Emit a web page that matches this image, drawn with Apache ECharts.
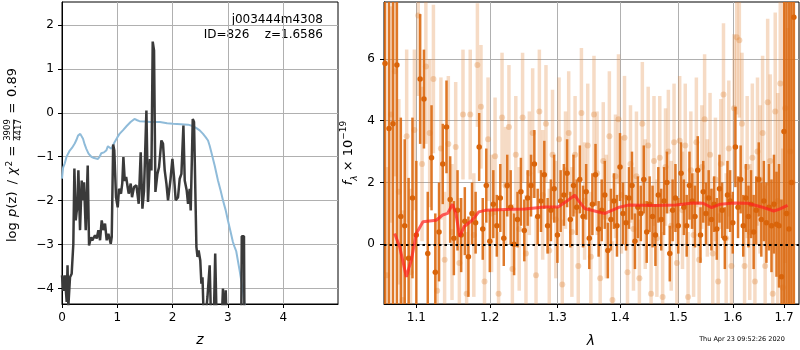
<!DOCTYPE html>
<html>
<head>
<meta charset="utf-8">
<script src="https://cdn.jsdelivr.net/npm/echarts@6/dist/echarts.min.js"></script>
<style>
html,body{margin:0;padding:0;background:#fff}
#chart{width:800px;height:350px}
</style>
</head>
<body>
<div id="chart"></div>
<script>
// left panel: log p(z) (black) and the blue curve, [z, value]
var pzCurve = [[0.00,-3.70],[0.025,-4.05],[0.05,-3.70],[0.085,-4.30],[0.10,-3.47],[0.115,-4.40],[0.145,-3.74],[0.175,-3.66],[0.205,-2.98],[0.224,-1.27],[0.248,-2.45],[0.265,-2.25],[0.278,-2.15],[0.296,-1.31],[0.326,-2.67],[0.356,-1.54],[0.374,-1.99],[0.398,-1.58],[0.429,-2.67],[0.465,-1.20],[0.489,-3.02],[0.525,-2.83],[0.547,-2.90],[0.567,-2.86],[0.597,-2.79],[0.627,-2.86],[0.658,-2.67],[0.688,-2.90],[0.718,-2.45],[0.748,-2.67],[0.778,-2.52],[0.808,-2.90],[0.839,-2.75],[0.881,-2.98],[0.899,-2.83],[0.925,-0.72],[0.945,-0.85],[0.977,-1.92],[1.007,-2.15],[1.031,-1.73],[1.067,-1.84],[1.090,-1.60],[1.110,-1.01],[1.135,-1.55],[1.160,-1.46],[1.188,-1.70],[1.206,-1.84],[1.242,-1.61],[1.266,-1.92],[1.302,-1.69],[1.345,-1.65],[1.387,-2.07],[1.423,-0.90],[1.454,-2.18],[1.483,-1.77],[1.526,0.05],[1.555,-2.03],[1.591,-1.05],[1.617,-1.31],[1.640,1.62],[1.652,1.60],[1.664,1.42],[1.689,-1.80],[1.725,-1.39],[1.754,-1.24],[1.797,-0.63],[1.826,-0.70],[1.857,-1.31],[1.888,-1.61],[1.917,-1.99],[1.960,-1.54],[1.996,-1.05],[2.025,-1.46],[2.056,-1.99],[2.080,-2.03],[2.098,-1.92],[2.128,-1.50],[2.159,-1.39],[2.195,-0.29],[2.219,-1.54],[2.255,-1.77],[2.279,-2.07],[2.309,-1.73],[2.327,-2.22],[2.364,-0.14],[2.387,-0.21],[2.400,-0.25],[2.430,-3.05],[2.450,-3.28],[2.470,-3.13],[2.500,-3.36],[2.520,-3.89],[2.540,-3.74],[2.570,-5.0],[2.600,-5.0],[2.630,-4.19],[2.670,-3.47],[2.700,-5.0],[2.740,-5.0],[2.770,-3.20],[2.800,-5.0],[2.880,-5.0],[2.910,-4.00],[2.930,-5.0],[2.960,-4.04],[2.980,-5.0],[3.240,-5.0],[3.250,-2.81],[3.290,-2.81],[3.300,-5.0],[3.400,-8.0]];
var chi2Curve = [[0,-1.5],[0.02,-1.25],[0.05,-1.15],[0.08,-1.01],[0.11,-0.93],[0.14,-0.86],[0.18,-0.8],[0.23,-0.70],[0.26,-0.62],[0.29,-0.52],[0.33,-0.48],[0.36,-0.52],[0.38,-0.59],[0.41,-0.72],[0.44,-0.82],[0.48,-0.93],[0.53,-1.0],[0.58,-1.03],[0.65,-1.05],[0.68,-1.0],[0.71,-0.92],[0.76,-0.9],[0.80,-0.86],[0.83,-0.76],[0.86,-0.8],[0.89,-0.82],[0.92,-0.75],[0.95,-0.67],[1.0,-0.56],[1.04,-0.48],[1.1,-0.40],[1.17,-0.30],[1.24,-0.21],[1.31,-0.14],[1.36,-0.17],[1.40,-0.19],[1.50,-0.20],[1.60,-0.21],[1.70,-0.21],[1.77,-0.21],[1.90,-0.24],[2.01,-0.25],[2.15,-0.26],[2.28,-0.27],[2.36,-0.30],[2.43,-0.35],[2.49,-0.40],[2.55,-0.48],[2.60,-0.56],[2.64,-0.63],[2.67,-0.75],[2.70,-0.90],[2.76,-1.20],[2.82,-1.54],[2.87,-1.78],[2.91,-1.99],[2.96,-2.22],[3.0,-2.45],[3.05,-2.72],[3.09,-2.94],[3.12,-3.05],[3.15,-3.15],[3.21,-3.58],[3.27,-4.04],[3.31,-4.45],[3.35,-5.0]];
var zTicks = [0, 1, 2, 3, 4];
var pzTicks = [-4, -3, -2, -1, 0, 1, 2];

// right panel: spectrum, strong points
var wlA = [1.060,1.065,1.070,1.075,1.080,1.085,1.090,1.095,1.100,1.105,
  1.110,1.115,1.120,1.125,1.130,1.135,1.140,1.145,1.150,1.155,
  1.160,1.165,1.170,1.175,1.180,1.185,1.190,1.195,1.200,1.205,
  1.210,1.215,1.220,1.225,1.230,1.235,1.240,1.245,1.250,1.255,
  1.260,1.265,1.270,1.275,1.280,1.285,1.290,1.295,1.300,1.305,
  1.310,1.315,1.320,1.325,1.330,1.335,1.340,1.345,1.350,1.355,
  1.360,1.365,1.370,1.375,1.380,1.385,1.390,1.395,1.400,1.405,
  1.410,1.415,1.420,1.425,1.430,1.435,1.440,1.445,1.450,1.455,
  1.460,1.465,1.470,1.475,1.480,1.485,1.490,1.495,1.500,1.505,
  1.510,1.515,1.520,1.525,1.530,1.535,1.540,1.545,1.550,1.555,
  1.560,1.565,1.570,1.575,1.580,1.585,1.590,1.595,1.600,1.605,
  1.610,1.615,1.620,1.625,1.630,1.635,1.640,1.645,1.650,1.655,
  1.660,1.665,1.670,1.675,1.680,1.685,1.690,1.695,1.700,1.705,
  1.710,1.715,1.720];
var fluxA = [5.85,3.75,3.90,5.80,0.90,0.60,-0.45,1.50,0.30,5.35,
  4.70,-0.30,2.80,-0.90,0.40,2.60,3.80,1.45,0.20,1.10,
  0.30,0.75,-0.40,1.00,0.70,3.15,0.50,1.90,0.10,1.30,
  0.60,1.50,0.20,1.90,1.20,0.00,0.80,1.70,0.45,1.50,
  1.90,2.60,0.90,1.40,2.25,0.60,1.10,1.80,0.30,1.40,
  1.60,2.30,0.80,1.90,1.20,2.10,0.90,1.70,0.20,1.30,
  2.25,0.50,1.10,1.60,-0.20,0.80,1.40,0.60,2.50,1.00,
  0.70,1.50,1.90,0.10,1.20,1.00,2.10,0.40,1.30,0.90,
  0.30,1.60,0.80,1.40,2.00,-0.30,1.10,1.50,0.60,2.30,
  1.20,0.60,1.90,1.40,0.90,2.40,0.30,1.70,1.00,1.50,
  0.80,1.30,0.50,1.80,1.10,0.20,1.60,1.40,0.70,3.15,
  1.20,2.10,0.60,1.50,0.90,1.30,0.40,1.10,2.10,0.80,
  1.40,0.70,1.20,0.60,1.30,0.65,0.60,-1.05,3.65,1.00,
  0.50,2.00,7.35];
var errA = [12,12,12,12,3.2,2.8,2.6,2.6,2.4,2.1,
  1.6,2.0,1.7,1.9,1.6,1.3,1.5,1.4,1.2,1.3,
  1.2,1.1,1.3,1.0,1.0,1.1,1.0,1.2,1.0,1.1,
  1.0,1.1,0.9,1.0,1.2,1.0,0.9,1.1,1.0,0.9,
  1.0,1.1,0.9,1.0,1.1,0.9,1.0,1.1,0.9,1.0,
  1.0,1.1,0.9,1.0,0.9,1.1,1.0,0.9,1.0,1.0,
  1.0,0.9,1.0,1.1,0.9,1.0,0.9,1.0,1.1,1.0,
  0.9,1.0,1.1,0.9,1.0,0.9,1.1,1.0,0.9,1.0,
  1.0,0.9,1.0,1.1,1.0,0.9,1.0,1.1,0.9,1.0,
  0.9,1.0,1.1,0.9,1.0,1.1,0.9,1.0,1.0,0.9,
  1.0,0.9,1.0,1.1,0.9,1.0,1.1,1.0,1.0,1.3,
  1.0,1.1,1.0,1.1,1.0,1.1,1.2,1.1,1.2,1.2,
  1.3,1.3,1.4,1.5,1.6,1.7,2.0,2.5,12,12,
  12,12,12];

// right panel: faint points
var wlB = [1.0625,1.0675,1.0725,1.0775,1.0825,1.0875,1.0925,1.0975,1.1025,1.1075,
  1.1125,1.1175,1.1225,1.1275,1.1325,1.1375,1.1425,1.1475,1.1525,1.1575,
  1.1625,1.1675,1.1725,1.1775,1.1825,1.1875,1.1925,1.1975,1.2025,1.2075,
  1.2125,1.2175,1.2225,1.2275,1.2325,1.2375,1.2425,1.2475,1.2525,1.2575,
  1.2625,1.2675,1.2725,1.2775,1.2825,1.2875,1.2925,1.2975,1.3025,1.3075,
  1.3125,1.3175,1.3225,1.3275,1.3325,1.3375,1.3425,1.3475,1.3525,1.3575,
  1.3625,1.3675,1.3725,1.3775,1.3825,1.3875,1.3925,1.3975,1.4025,1.4075,
  1.4125,1.4175,1.4225,1.4275,1.4325,1.4375,1.4425,1.4475,1.4525,1.4575,
  1.4625,1.4675,1.4725,1.4775,1.4825,1.4875,1.4925,1.4975,1.5025,1.5075,
  1.5125,1.5175,1.5225,1.5275,1.5325,1.5375,1.5425,1.5475,1.5525,1.5575,
  1.5625,1.5675,1.5725,1.5775,1.5825,1.5875,1.5925,1.5975,1.6025,1.6075,
  1.6125,1.6175,1.6225,1.6275,1.6325,1.6375,1.6425,1.6475,1.6525,1.6575,
  1.6625,1.6675,1.6725,1.6775,1.6825,1.6875,1.6925,1.6975,1.7025,1.7075,
  1.7125,1.7175];
var fluxB = [-1.0,4.2,5.6,1.7,-1.8,3.5,-0.9,3.7,7.4,2.6,
  5.75,3.6,5.35,-1.5,3.1,-0.5,3.25,0.4,3.15,-0.6,
  4.2,-1.6,4.2,0.3,5.8,4.45,-1.2,3.4,1.0,2.85,
  -1.6,4.1,1.9,3.8,-0.8,2.9,0.5,4.1,-0.3,2.3,
  3.6,-1.0,4.3,1.6,3.9,-0.2,2.9,0.8,3.4,-1.3,
  2.4,3.6,0.4,2.9,-0.7,4.25,1.4,3.2,-0.4,4.2,
  2.3,-1.1,2.7,0.9,3.5,-1.8,2.2,4.05,1.6,3.45,
  -0.9,2.6,0.5,2.2,-1.1,3.9,1.3,3.2,-1.6,2.7,
  0.2,2.8,-1.7,2.5,3.0,0.6,3.3,-0.6,3.35,1.1,
  3.2,-1.7,2.4,0.3,3.3,-0.5,2.5,4.05,1.5,2.9,
  -0.3,2.1,-1.2,2.6,4.85,0.2,3.1,-0.7,4.4,6.7,
  6.6,3.9,-0.7,2.5,0.4,2.8,-1.2,3.0,2.1,3.6,
  -0.7,4.6,2.7,-1.6,4.3,1.4,5.2,-1.4,4.4,1.0,
  3.0,2.0];
var errB = [3.5,3.5,3.4,3.0,2.9,2.8,2.7,2.6,2.6,2.5,
  2.5,2.4,2.4,2.3,2.3,2.2,2.2,2.2,2.1,2.1,
  2.1,2.0,2.1,2.0,2.0,2.0,1.9,2.0,1.9,1.9,
  2.0,2.1,1.9,2.0,2.1,1.9,2.0,2.1,1.9,2.0,
  2.1,1.9,2.0,2.1,1.9,2.0,2.1,1.9,2.0,2.1,
  1.9,2.0,2.1,1.9,2.0,2.1,1.9,2.0,2.1,1.9,
  2.0,2.1,1.9,2.0,2.1,1.9,2.0,2.1,1.9,2.0,
  2.1,1.9,2.0,2.1,1.9,2.0,2.1,1.9,2.0,2.1,
  1.9,2.0,2.1,1.9,2.0,2.1,1.9,2.0,2.1,1.9,
  2.0,2.1,1.9,2.0,2.1,1.9,2.0,2.1,1.9,2.0,
  2.1,2.0,2.2,2.1,2.3,2.1,2.2,2.3,2.4,2.5,
  2.5,2.3,2.2,2.3,2.2,2.4,2.3,2.4,2.4,2.5,
  2.6,2.7,2.8,3.0,3.2,3.5,4.0,4.5,5.0,6.0,
  6.0,6.0];

// best-fit model (red)
var modelLam = [1.0721,1.0785,1.0871,1.0935,1.1000,1.1087,1.1261,1.1349,1.1415,1.1482,1.1527,1.1581,1.1639,1.1752,1.1844,1.1937,1.2220,1.2510,1.2808,1.3010,1.3165,1.3270,1.3322,1.3428,1.3697,1.3752,1.3972,1.4140,1.4601,1.4957,1.5260,1.5447,1.5605,1.5764,1.6022,1.6286,1.6554,1.6794,1.6898,1.7072];
var modelFlux = [0.35,-0.08,-1.05,-0.51,0.35,0.73,0.78,0.95,1.00,1.30,1.00,0.25,0.57,0.78,1.05,1.10,1.13,1.14,1.21,1.21,1.43,1.59,1.43,1.16,1.02,1.00,1.19,1.27,1.26,1.27,1.34,1.33,1.19,1.30,1.34,1.33,1.21,1.08,1.13,1.26];
var lamTicks = [1.1, 1.2, 1.3, 1.4, 1.5, 1.6, 1.7];
var fluxTicks = [0, 2, 4, 6];

var FONT = 'DejaVu Sans';
var chart = echarts.init(document.getElementById('chart'), null, {renderer: 'canvas'});

function zip3(a, b, c) {
  return a.map(function (v, i) { return c ? [v, b[i], c[i]] : [v, b[i]]; });
}
function minus(v) { return v < 0 ? '\u2212' + (-v) : '' + v; }

function errBar(w, color, alpha) {
  return function (params, api) {
    var x = api.value(0), y = api.value(1), e = api.value(2);
    var p1 = api.coord([x, y + e]);
    var p2 = api.coord([x, y - e]);
    var cs = params.coordSys;
    var r = echarts.graphic.clipRectByRect(
      {x: p1[0] - w / 2, y: p1[1], width: w, height: p2[1] - p1[1]},
      {x: cs.x, y: cs.y, width: cs.width, height: cs.height});
    if (!r) return null;
    return {type: 'rect', shape: r, style: {fill: color, opacity: alpha}};
  };
}

function axisCommon(ticks, fmt, margin) {
  return {
    axisLine: {show: true, onZero: false, lineStyle: {color: '#000', width: 1}},
    axisTick: {show: true, length: 4, customValues: ticks, lineStyle: {color: '#000', width: 1}},
    axisLabel: {customValues: ticks, formatter: fmt, color: '#000', fontSize: 12, fontFamily: FONT, margin: margin},
    splitLine: {show: true, lineStyle: {color: '#b0b0b0', width: 1}}
  };
}

// text piece of the rotated left label, lx = distance along the text from its start
function lab(lx, ly, text, size, align, italic) {
  return {type: 'text', x: lx, y: ly, style: {text: text, fill: '#000', fontSize: size, fontFamily: FONT,
    fontStyle: italic ? 'italic' : 'normal', textAlign: align, textVerticalAlign: 'middle'}};
}

var option = {
  animation: false,
  backgroundColor: '#fff',
  grid: [
    {left: 62, top: 2, width: 276, height: 302, show: true, borderColor: '#000', borderWidth: 1, containLabel: false, outerBoundsMode: 'none'},
    {left: 384, top: 2, width: 415, height: 302, show: true, borderColor: '#000', borderWidth: 1, containLabel: false, outerBoundsMode: 'none'}
  ],
  xAxis: [
    Object.assign({type: 'value', gridIndex: 0, min: 0, max: 4.99}, axisCommon(zTicks, function (v) { return '' + v; }, 8)),
    Object.assign({type: 'log', logBase: 10, gridIndex: 1, min: 1.0587, max: 1.7305}, axisCommon(lamTicks, function (v) { return (+v).toFixed(1); }, 8))
  ],
  yAxis: [
    Object.assign({type: 'value', gridIndex: 0, min: -4.35, max: 2.52}, axisCommon(pzTicks, minus, 8)),
    Object.assign({type: 'value', gridIndex: 1, min: -1.93, max: 7.84}, axisCommon(fluxTicks, minus, 9))
  ],
  series: [
    {type: 'line', xAxisIndex: 0, yAxisIndex: 0, data: chi2Curve, showSymbol: false, clip: true,
      lineStyle: {color: '#8fbbd9', width: 2}, z: 3},
    {type: 'line', xAxisIndex: 0, yAxisIndex: 0, data: pzCurve, showSymbol: false, clip: true,
      lineStyle: {color: '#3a3a3a', width: 2.5}, z: 4},
    {type: 'custom', xAxisIndex: 1, yAxisIndex: 1, data: zip3(wlB, fluxB, errB), encode: {x: 0, y: 1},
      renderItem: errBar(3.5, '#e0893e', 0.3), z: 2},
    {type: 'scatter', xAxisIndex: 1, yAxisIndex: 1, data: zip3(wlB, fluxB), symbolSize: 6,
      itemStyle: {color: '#e0893e', opacity: 0.35}, z: 2},
    {type: 'custom', xAxisIndex: 1, yAxisIndex: 1, data: zip3(wlA, fluxA, errA), encode: {x: 0, y: 1},
      renderItem: errBar(2.5, '#dc6a12', 0.9), z: 3},
    {type: 'scatter', xAxisIndex: 1, yAxisIndex: 1, data: zip3(wlA, fluxA), symbolSize: 5.5,
      itemStyle: {color: '#d9640a', opacity: 1}, z: 3},
    {type: 'line', xAxisIndex: 1, yAxisIndex: 1, data: zip3(modelLam, modelFlux), showSymbol: false, clip: true,
      lineStyle: {color: '#ff1e1e', width: 3, opacity: 0.7}, z: 5,
      markLine: {silent: true, symbol: 'none', label: {show: false},
        lineStyle: {color: '#000', width: 2, type: [2.5, 3]}, data: [{yAxis: 0}]}}
  ],
  graphic: {elements: [
    {type: 'text', x: 323, y: 20, style: {text: 'j003444m4308', fill: '#000', fontSize: 12, fontFamily: FONT, textAlign: 'right', textVerticalAlign: 'middle'}},
    {type: 'text', x: 323, y: 34.5, style: {text: 'ID=826    z=1.6586', fill: '#000', fontSize: 12, fontFamily: FONT, textAlign: 'right', textVerticalAlign: 'middle'}},
    {type: 'group', x: 13, y: 242, rotation: Math.PI / 2, children: [
      lab(0, 0, 'log', 13, 'left'),
      lab(25, 0, 'p', 13, 'left', true),
      lab(33.5, 0, '(z)', 13, 'left'),
      lab(60, 0, '/', 13, 'center'),
      lab(67, 0, 'χ', 13, 'left', true),
      lab(75.5, -3, '2', 9, 'left'),
      lab(91, 0, '=', 13, 'center'),
      lab(112, -5, '3909', 8.5, 'center'),
      {type: 'line', shape: {x1: 101.5, y1: 0.5, x2: 122.5, y2: 0.5}, style: {stroke: '#000', lineWidth: 0.8}},
      lab(112, 5.5, '4417', 8.5, 'center'),
      lab(134, 0, '=', 13, 'center'),
      lab(174, 0, '0.89', 13, 'right')
    ]},
    {type: 'text', x: 349, y: 153, rotation: Math.PI / 2, style: {text: '{i|f}{s|λ}{n| × 10}{p|−19}', textAlign: 'center', textVerticalAlign: 'middle',
      rich: {
        i: {fontSize: 13, fontFamily: FONT, fontStyle: 'italic', fill: '#000', lineHeight: 20},
        s: {fontSize: 9, fontFamily: FONT, fontStyle: 'italic', fill: '#000', verticalAlign: 'bottom', lineHeight: 20},
        n: {fontSize: 13, fontFamily: FONT, fill: '#000', lineHeight: 20},
        p: {fontSize: 9, fontFamily: FONT, fill: '#000', verticalAlign: 'top', lineHeight: 20}
      }}},
    {type: 'text', x: 200, y: 340, style: {text: 'z', fill: '#000', fontSize: 14, fontFamily: FONT, fontStyle: 'italic', textAlign: 'center', textVerticalAlign: 'middle'}},
    {type: 'text', x: 591, y: 341, style: {text: 'λ', fill: '#000', fontSize: 14, fontFamily: FONT, fontStyle: 'italic', textAlign: 'center', textVerticalAlign: 'middle'}},
    {type: 'text', x: 742, y: 339.5, style: {text: 'Thu Apr 23 09:52:26 2020', fill: '#000', fontSize: 6.5, fontFamily: FONT, textAlign: 'center', textVerticalAlign: 'middle'}}
  ]}
};
chart.setOption(option);
</script>
</body>
</html>
